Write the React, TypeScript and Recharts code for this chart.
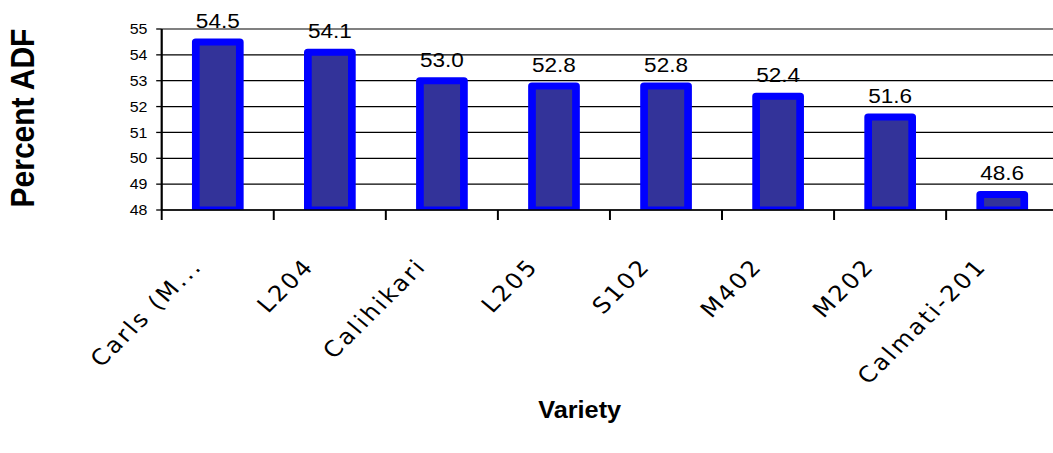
import React from 'react';
import {
  BarChart,
  Bar,
  XAxis,
  YAxis,
  CartesianGrid,
  ReferenceLine,
  LabelList,
  Label,
} from 'recharts';

const varieties = ['Carls (M...', 'L204', 'Calihikari', 'L205', 'S102', 'M402', 'M202', 'Calmati-201'];
const adfValues = [54.5, 54.1, 53.0, 52.8, 52.8, 52.4, 51.6, 48.6];
const adfTicks = [48, 49, 50, 51, 52, 53, 54, 55];

const data = varieties.map((variety, i) => ({ variety, adf: adfValues[i] }));

const FONT = '"Liberation Sans", Arial, sans-serif';
const TICK_FONT = '"DejaVu Sans", Verdana, sans-serif';
// the source picture is stretched a bit sideways, so the whole chart is too
const STRETCH = 1.1;

function VarietyTick({ x, y, payload }: any) {
  const edge = x - (payload.offset ?? 0);
  const tx = x - 13;
  const ty = y + 57;
  return (
    <g>
      <line x1={edge} x2={edge} y1={y} y2={y + 10} stroke="#000" strokeWidth={1.8} />
      <text
        x={tx}
        y={ty}
        textAnchor="end"
        transform={`rotate(-47.5, ${tx}, ${ty})`}
        fontSize={22}
        letterSpacing={2.4}
        fontFamily={TICK_FONT}
        fill="#000"
      >
        {payload.value}
      </text>
    </g>
  );
}

export default function App() {
  return (
    <div
      style={{
        position: 'absolute',
        left: 0,
        top: 0,
        width: 1053,
        height: 453,
        overflow: 'hidden',
        background: '#fff',
      }}
    >
      <div style={{ width: 970, height: 453, transform: `scaleX(${STRETCH})`, transformOrigin: '0 0' }}>
        <BarChart width={970} height={453} data={data} margin={{ top: 29, right: 8, left: 0, bottom: 0 }}>
          <CartesianGrid horizontal vertical={false} stroke="#000" strokeWidth={1.2} />
          <ReferenceLine y={55} stroke="#808080" strokeWidth={1.4} />
          <XAxis
            dataKey="variety"
            height={243}
            interval={0}
            tickSize={0}
            tickMargin={0}
            tickLine={false}
            axisLine={{ stroke: '#000', strokeWidth: 1.3 }}
            tick={<VarietyTick />}
          >
            <Label
              content={() => (
                <text x={527} y={418} textAnchor="middle" fontSize={23} fontWeight="bold" fontFamily={FONT} fill="#000">
                  Variety
                </text>
              )}
            />
          </XAxis>
          <YAxis
            width={147}
            domain={[48, 55]}
            ticks={adfTicks}
            interval={0}
            allowDataOverflow
            tickSize={5}
            tickMargin={8}
            tick={{ fontSize: 14.5, fill: '#000', fontFamily: FONT }}
            tickLine={{ stroke: '#000', strokeWidth: 1.3 }}
            axisLine={{ stroke: '#000', strokeWidth: 2 }}
          >
            <Label
              content={() => (
                <text
                  x={31}
                  y={118}
                  textAnchor="middle"
                  transform="rotate(-90, 31, 118)"
                  fontSize={30}
                  fontWeight="bold"
                  fontFamily={FONT}
                  fill="#000"
                >
                  Percent ADF
                </text>
              )}
            />
          </YAxis>
          <Bar
            dataKey="adf"
            barSize={40}
            fill="#333399"
            stroke="#0000ff"
            strokeWidth={7}
            strokeLinejoin="round"
            isAnimationActive={false}
          >
            <LabelList
              dataKey="adf"
              position="top"
              offset={14}
              formatter={(v: any) => Number(v).toFixed(1)}
              style={{ fontSize: 20.5, fill: '#000', fontFamily: FONT }}
            />
          </Bar>
        </BarChart>
      </div>
    </div>
  );
}
